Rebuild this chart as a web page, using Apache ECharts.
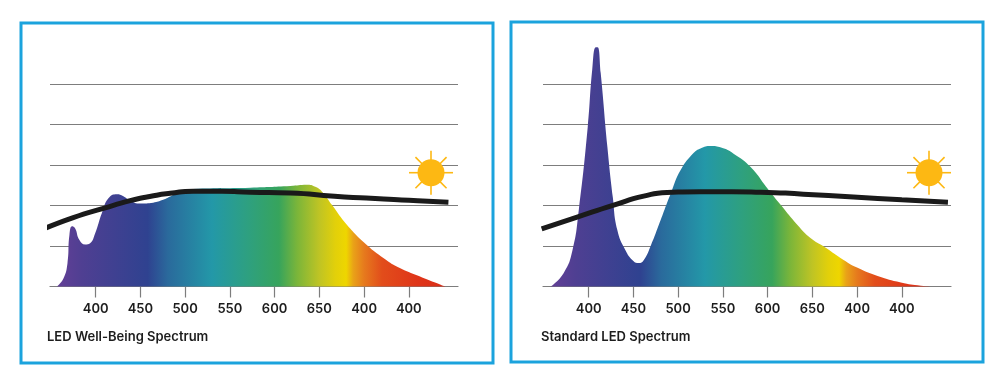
<!DOCTYPE html>
<html><head><meta charset="utf-8">
<style>html,body{margin:0;padding:0;background:#fff}#c{width:1000px;height:380px}</style>
<script src="https://cdn.jsdelivr.net/npm/echarts@6/dist/echarts.min.js"></script>
</head><body><div id="c"></div>
<script>
const tickValues = [400,450,500,550,600,650,700,750];
const tickLabels = ['400','450','500','550','600','650','400','400'];
const panelTitles = ['LED Well-Being Spectrum','Standard LED Spectrum'];

const wellWl = [356.6,364,368.5,370.7,373.7,377,381.9,388.3,393.8,399.4,406.9,414.3,423.7,431,438.6,449.8,464.3,475.5,483.3,492,509,573,617.6,636,645.5,653,664.2,681,703.4,722,737,759,791];
const wellVal = [0,0.20,0.57,1.27,1.49,1.44,1.15,1.04,1.07,1.31,1.81,2.18,2.28,2.23,2.12,2.05,2.07,2.14,2.22,2.33,2.41,2.44,2.48,2.51,2.46,2.34,2.01,1.52,1.02,0.70,0.49,0.28,0];
const wellSunWl = [342,375,408.7,438.6,464.7,483.3,509,541,573,617.6,667,722,760,794.3];
const wellSunVal = [1.42,1.70,1.93,2.12,2.24,2.30,2.35,2.35,2.33,2.31,2.23,2.16,2.12,2.08];

const stdWl = [357.5,372,382,389,399,404,408,410,413.5,421,427,432,441,450,456,461.5,469,480.5,492,503,517.5,525,536.5,548,562,581,599.9,614.8,633.4,648.3,663.2,681.9,700.6,723,749,771.4,786];
const stdVal = [0,0.33,0.90,1.89,3.94,5.35,5.91,5.91,5.27,3.44,2.21,1.40,0.90,0.63,0.58,0.65,0.98,1.64,2.31,2.88,3.30,3.41,3.47,3.43,3.28,2.95,2.42,2.01,1.52,1.19,0.98,0.70,0.46,0.26,0.10,0.02,0];
const stdSunWl = [347.5,388,428,461.5,488,525,560,592,640,696,750,801.6];
const stdSunVal = [1.42,1.72,2.01,2.23,2.32,2.34,2.34,2.33,2.28,2.21,2.14,2.08];

const stopWl = [357,385,458,481,530,570,605,625,650,668,680,688,700,720,760,790];
const stopColor = ['#633f96','#4f3f92','#2f4290','#2a6a9c','#2398a8','#2ea080','#37a45c','#7ab53a','#bfc424','#e2d00a','#eed600','#e9a218','#e67a1d','#e24d1b','#df3519','#da2e18'];

function zip(a,b){return a.map((x,i)=>[x,b[i]]);}
function gradient(wl){
  const lo=wl[0],hi=wl[wl.length-1];
  return new echarts.graphic.LinearGradient(0,0,1,0,stopWl.map((w,i)=>({
    offset:Math.min(1,Math.max(0,(w-lo)/(hi-lo))),color:stopColor[i]})));
}
const GRID='#7d7d7d', BLUE='#1ba3dd', SUN='#fdb813', INK='#1a1a1a';
const TXT={fontFamily:'Inter',fontWeight:600,color:'#1d1d1d'};
const lefts=[50,543];
function xAxis(i){return {gridIndex:i,type:'value',min:349,max:805,
  axisLine:{lineStyle:{color:GRID,width:1.2}},
  axisTick:{customValues:tickValues,length:11,lineStyle:{color:GRID,width:1.2}},
  axisLabel:{customValues:tickValues,margin:16,fontSize:13,...TXT,
    formatter:v=>tickLabels[tickValues.indexOf(v)]},
  splitLine:{show:false}};}
function yAxis(i){return {gridIndex:i,type:'value',min:0,max:5,interval:1,
  axisLine:{show:false},axisTick:{show:false},axisLabel:{show:false},
  splitLine:{lineStyle:{color:GRID,width:1.2}}};}
function spectrum(i,wl,val){return {type:'line',xAxisIndex:i,yAxisIndex:i,data:zip(wl,val),smooth:0.5,symbol:'none',clip:false,z:2,
  lineStyle:{width:0},areaStyle:{color:gradient(wl),opacity:1}};}
function sunline(i,wl,val){return {type:'line',xAxisIndex:i,yAxisIndex:i,data:zip(wl,val),smooth:0.6,symbol:'none',clip:false,z:3,
  lineStyle:{color:INK,width:5,cap:'butt'}};}
function sun(cx,cy){
  const rays=[];
  for(let k=0;k<8;k++){const a=k*Math.PI/4;
    rays.push({type:'line',shape:{x1:cx+12*Math.cos(a),y1:cy+12*Math.sin(a),x2:cx+22*Math.cos(a),y2:cy+22*Math.sin(a)},
      style:{stroke:SUN,lineWidth:1.6},z:5});}
  rays.push({type:'circle',shape:{cx,cy,r:13.5},style:{fill:SUN},z:5});
  return rays;
}
const chart=echarts.init(document.getElementById('c'),null,{renderer:'canvas'});
chart.setOption({
  animation:false,backgroundColor:'#fff',
  title:[
    {text:panelTitles[0],left:47,top:331,padding:0,textStyle:{fontSize:13,...TXT}},
    {text:panelTitles[1],left:541,top:331,padding:0,textStyle:{fontSize:13,...TXT}}
  ],
  grid:[
    {left:lefts[0],top:84,width:408,height:202.5},
    {left:lefts[1],top:84,width:408,height:202.5}
  ],
  xAxis:[xAxis(0),xAxis(1)],
  yAxis:[yAxis(0),yAxis(1)],
  series:[spectrum(0,wellWl,wellVal),sunline(0,wellSunWl,wellSunVal),spectrum(1,stdWl,stdVal),sunline(1,stdSunWl,stdSunVal)],
  graphic:[
    {type:'rect',shape:{x:21,y:23,width:472,height:340},style:{fill:'none',stroke:BLUE,lineWidth:3}},
    {type:'rect',shape:{x:511,y:22,width:472,height:340},style:{fill:'none',stroke:BLUE,lineWidth:3}},
    ...sun(431,172.7),...sun(929,172.7)
  ]
});
</script></body></html>
